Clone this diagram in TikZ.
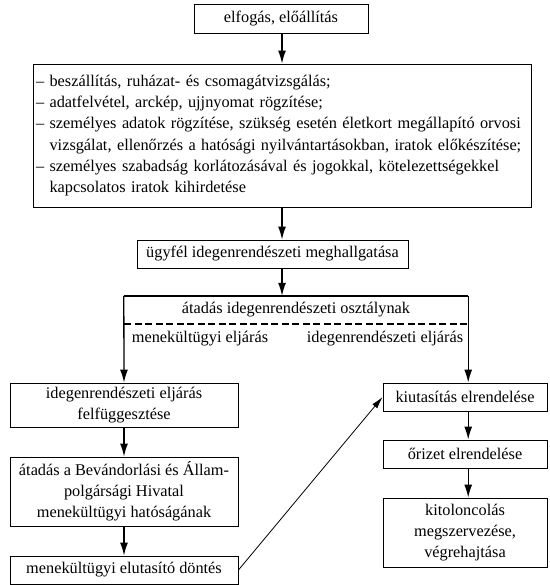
\documentclass[tikz,border=0pt]{standalone}
\usepackage{fontspec}
\setmainfont{Liberation Serif}
\usetikzlibrary{arrows.meta}
\begin{document}
\begin{tikzpicture}[x=1pt,y=-1pt,
  every node/.style={font=\fontsize{16.3}{21.2}\selectfont},
  box/.style={draw, line width=0.9pt, inner sep=0pt, align=center},
  arr/.style={line width=1.3pt, -{Latex[length=13pt,width=8pt]}},
  thinarr/.style={line width=0.8pt, -{Latex[length=12pt,width=6.5pt]}},
  lbl/.style={inner sep=0pt}
]
\useasboundingbox (0,0) rectangle (549,585);

\node[box, minimum width=174pt, minimum height=29pt] (b1) at (281,18.5) {elfogás, előállítás};

\node[box, minimum width=498pt, minimum height=143pt, text width=492pt, inner xsep=3pt, align=left] (b2) at (282,135.5)
{– beszállítás, ruházat- és csomagátvizsgálás;\\
– adatfelvétel, arckép, ujjnyomat rögzítése;\\
– személyes adatok rögzítése, szükség esetén életkort megállapító orvosi\\
\phantom{– }vizsgálat, ellenőrzés a hatósági nyilvántartásokban, iratok előkészítése;\\
– személyes szabadság korlátozásával és jogokkal, kötelezettségekkel\\
\phantom{– }kapcsolatos iratok kihirdetése};

\node[box, minimum width=271pt, minimum height=28pt] (b3) at (272.5,254) {ügyfél idegenrendészeti meghallgatása};

\node[inner sep=0pt, minimum width=344pt, minimum height=87pt] (b4) at (296,339.5) {};
\node[lbl] (b4t) at (296,310) {átadás idegenrendészeti osztálynak};
\node[lbl] (b4l) at (200,339) {menekültügyi eljárás};
\node[lbl] (b4r) at (385,339) {idegenrendészeti eljárás};
\coordinate (dl) at (124,324);
\coordinate (dr) at (468,324);

\node[box, minimum width=228pt, minimum height=44pt] (l1) at (124,405) {idegenrendészeti eljárás\\felfüggesztése};
\node[box, minimum width=228pt, minimum height=69pt] (l2) at (124,491.5) {átadás a Bevándorlási és Állam-\\polgársági Hivatal\\menekültügyi hatóságának};
\node[box, minimum width=228pt, minimum height=28pt] (l3) at (124,570) {menekültügyi elutasító döntés};

\node[box, minimum width=164pt, minimum height=28pt] (r1) at (465,397) {kiutasítás elrendelése};
\node[box, minimum width=164pt, minimum height=28pt] (r2) at (465,454) {őrizet elrendelése};
\node[box, minimum width=164pt, minimum height=69pt] (r3) at (465,532.5) {kitoloncolás\\megszervezése,\\végrehajtása};

% connectors
\draw[arr] (b2.north |- b1.south) -- (b2.north);
\draw[arr] (b2.south) -- (b2.south |- b3.north);
\draw[arr] (b2.south |- b3.south) -- (b2.south |- b4.north);
\draw[line width=2pt] (b4.north west) -- (b4.north east);
\draw[line width=1.8pt, dash pattern=on 7pt off 3.5pt] (dl) -- (dr);
\draw[arr] (b4.north west) -- (l1.north);
\draw[arr] (b4.north east) -- (b4.north east |- r1.north);
\draw[arr] (l1.south) -- (l2.north);
\draw[arr] (l2.south) -- (l3.north);
\draw[thinarr] (l3.east) -- (r1.west);
\draw[arr] (r1.south -| b4.north east) -- (r2.north -| b4.north east);
\draw[arr] (r2.south -| b4.north east) -- (r3.north -| b4.north east);
\end{tikzpicture}
\end{document}
